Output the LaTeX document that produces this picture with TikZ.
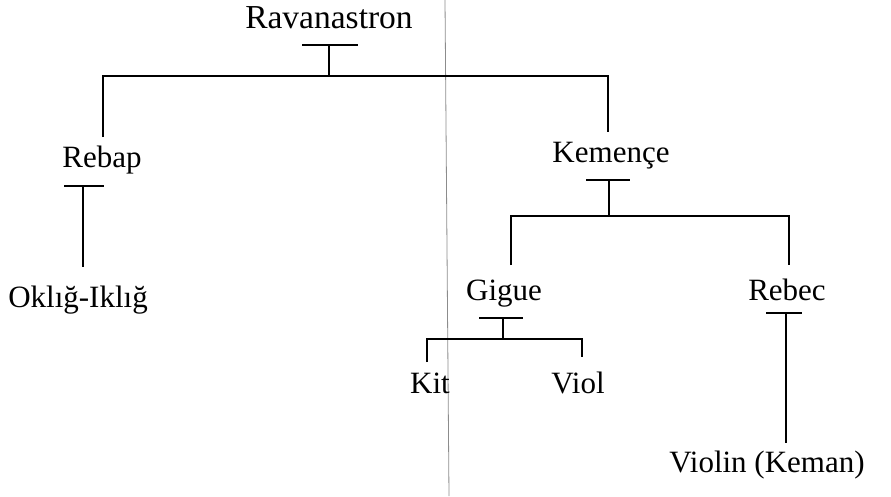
\documentclass[tikz,border=0pt]{standalone}
\usepackage{fontspec}
\setmainfont{Liberation Serif}
\usepackage{tikz}
\usetikzlibrary{calc}
\tikzset{
  instr/.style={font=\fontsize{31}{34}\selectfont, inner sep=0pt, anchor=base},
  tree/.style={draw=black, line width=2.2pt, line cap=butt},
  fold/.style={draw=black!45, line width=0.8pt},
}

\begin{document}
\begin{tikzpicture}[x=1pt,y=-1pt]
    \useasboundingbox (0,0) rectangle (891,496);
    \draw[fold] (445,0) -- (449,496);
    % instruments
    \node[instr,font=\fontsize{33.5}{36}\selectfont] (rav) at (329,28) {Ravanastron};
    \node[instr] (reb) at (102,167) {Rebap};
    \node[instr] (okl) at (78,307) {Oklığ-Iklığ};
    \node[instr] (kem) at (611,162) {Kemençe};
    \node[instr] (gig) at (504,300) {Gigue};
    \node[instr] (rbc) at (787,300) {Rebec};
    \node[instr] (kit) at (430,393) {Kit};
    \node[instr] (vio) at (578,393) {Viol};
    \node[instr] (vln) at (767,472) {Violin (Keman)};
    % junctions
    \coordinate (ravT) at (330,45);   \coordinate (ravB) at (329,76);
    \coordinate (rebIn) at (103,137); \coordinate (kemIn) at (608,132);
    \coordinate (rebT) at (84,186);   \coordinate (oklIn) at (83,267);
    \coordinate (kemT) at (608,180);  \coordinate (kemB) at (609,216);
    \coordinate (gigIn) at (511,265); \coordinate (rbcIn) at (789,265);
    \coordinate (gigT) at (501,318);  \coordinate (gigB) at (503,339);
    \coordinate (kitIn) at (427,362); \coordinate (vioIn) at (582,357);
    \coordinate (rbcT) at (784,313);  \coordinate (vlnIn) at (786,443);
    % Ravanastron
    \draw[tree] ([xshift=-28pt]ravT) -- ([xshift=28pt]ravT);
    \draw[tree] (ravT -| ravB) -- (ravB);
    \draw[tree] (rebIn) |- (ravB) -| (kemIn);
    % Rebap
    \draw[tree] ([xshift=-20pt]rebT) -- ([xshift=20pt]rebT);
    \draw[tree] (rebT -| oklIn) -- (oklIn);
    % Kemence
    \draw[tree] ([xshift=-22pt]kemT) -- ([xshift=22pt]kemT);
    \draw[tree] (kemT -| kemB) -- (kemB);
    \draw[tree] (gigIn) |- (kemB) -| (rbcIn);
    % Gigue
    \draw[tree] ([xshift=-22pt]gigT) -- ([xshift=22pt]gigT);
    \draw[tree] (gigT -| gigB) -- (gigB);
    \draw[tree] (kitIn) |- (gigB) -| (vioIn);
    % Rebec
    \draw[tree] ([xshift=-18pt]rbcT) -- ([xshift=18pt]rbcT);
    \draw[tree] (rbcT -| vlnIn) -- (vlnIn);
  \end{tikzpicture}
\end{document}
